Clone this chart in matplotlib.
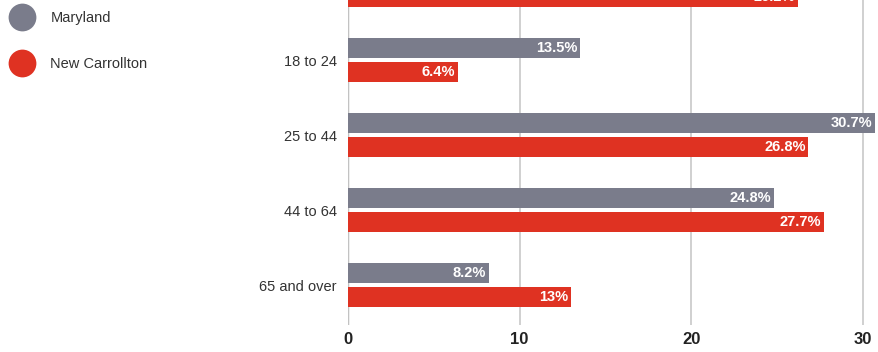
import matplotlib.pyplot as plt
import numpy as np
from matplotlib.lines import Line2D

plt.rcParams['font.family'] = ['Liberation Sans', 'DejaVu Sans']

categories = ['Under 18', '18 to 24', '25 to 44', '44 to 64', '65 and over']
maryland = [23.4, 13.5, 30.7, 24.8, 8.2]
new_carrollton = [26.2, 6.4, 26.8, 27.7, 13.0]
maryland_labels = ['23.4%', '13.5%', '30.7%', '24.8%', '8.2%']
carrollton_labels = ['26.2%', '6.4%', '26.8%', '27.7%', '13%']

grey = '#7a7c8b'
red = '#df3222'

fig = plt.figure(figsize=(8.79, 3.52), dpi=100)
ax = fig.add_axes([348 / 879, 27 / 352, (879 - 348) / 879, 325 / 352])

y = np.arange(len(categories))
h = 0.267
off = 0.16
bars_md = ax.barh(y - off, maryland, height=h, color=grey, zorder=3)
bars_nc = ax.barh(y + off, new_carrollton, height=h, color=red, zorder=3)

for bars, labels in [(bars_md, maryland_labels), (bars_nc, carrollton_labels)]:
    for b, lab in zip(bars, labels):
        ax.text(b.get_width() - 0.15, b.get_y() + b.get_height() / 2, lab,
                ha='right', va='center', color='white', fontsize=10.5,
                fontweight='bold', zorder=4)

ax.set_xticks([0, 10, 20, 30])
ax.set_yticks(y)
ax.set_yticklabels(categories, fontsize=10.5, color='#333333')
ax.set_xlim(0, 30.93)
ax.set_ylim(4.533, 0.2)
ax.tick_params(axis='y', length=0, pad=8)
ax.tick_params(axis='x', length=0, pad=5, labelsize=12, labelcolor='#222222')
for lab in ax.get_xticklabels():
    lab.set_fontweight('bold')
ax.grid(axis='x', color='#c8c8c8', linewidth=1.2, zorder=0)
ax.axvline(0, color='#aaaaaa', linewidth=1, zorder=1)
for s in ax.spines.values():
    s.set_visible(False)

handles = [Line2D([], [], marker='o', linestyle='none', markersize=20,
                  markerfacecolor=grey, markeredgecolor='none'),
           Line2D([], [], marker='o', linestyle='none', markersize=20,
                  markerfacecolor=red, markeredgecolor='none')]
fig.legend(handles, ['Maryland', 'New Carrollton'], loc='upper left',
           bbox_to_anchor=(0.006, 0.985), frameon=False, fontsize=10.5,
           labelspacing=2.2, handletextpad=1.2, borderaxespad=0.2,
           labelcolor='#333333', borderpad=0.2, handlelength=1.5)

fig.savefig('out.png', dpi=100)
